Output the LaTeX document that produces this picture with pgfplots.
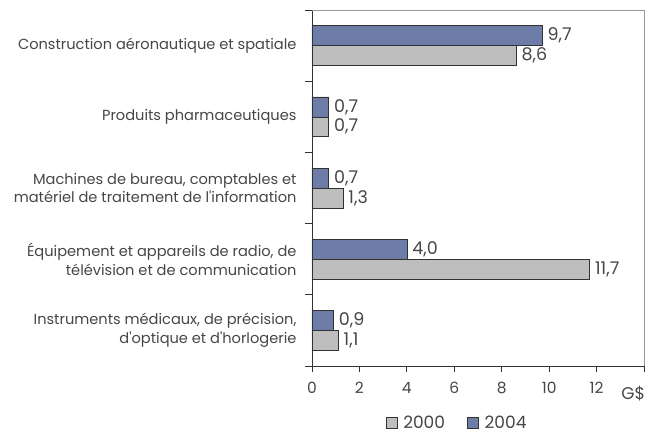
\documentclass[border=0pt]{standalone}
\usepackage{pgfplots}
\pgfplotsset{compat=1.18}
\usepackage{fontspec}
\setmainfont{Poppins}
\definecolor{txt}{RGB}{70,70,70}
\definecolor{bblue}{RGB}{110,124,168}
\definecolor{bgray}{RGB}{190,190,190}
\definecolor{edge}{RGB}{50,50,50}
\definecolor{frame}{RGB}{150,150,150}
\begin{document}
\begin{tikzpicture}
\path[use as bounding box] (-312pt,-68pt) rectangle (347pt,366pt);
\begin{axis}[
  at={(0pt,0pt)}, anchor=south west,
  scale only axis, width=332pt, height=356pt,
  xbar, bar width=0.28,
  xmin=0, xmax=14, ymin=-0.5, ymax=4.5,
  axis lines=left, axis line style={edge, line width=0.8pt, -},
  xtick={0,2,...,14},
  xticklabels={0,2,4,6,8,10,12,},
  ytick={0,1,2,3,4},
  yticklabels={{Instruments médicaux, de précision,\\d\textquotesingle optique et d\textquotesingle horlogerie},
               {Équipement et appareils de radio, de\\télévision et de communication},
               {Machines de bureau, comptables et\\matériel de traitement de l\textquotesingle information},
               {Produits pharmaceutiques},
               {Construction aéronautique et spatiale}},
  minor ytick={-0.5,0.5,...,4.5},
  major y tick style={draw=none},
  minor tick length=7pt,
  major tick length=6pt,
  tick align=outside,
  tick style={edge, line width=0.8pt},
  yticklabel style={align=right, font=\fontsize{14.6}{18.5}\selectfont, text=txt, xshift=-6pt},
  xticklabel style={font=\fontsize{15.5}{17}\selectfont, text=txt, yshift=-7pt},
  /pgf/number format/assume math mode=true,
  point meta=x,
  nodes near coords={\pgfmathprintnumber[fixed,fixed zerofill,precision=1,use comma,assume math mode=true]{\pgfplotspointmeta}},
  nodes near coords style={font=\fontsize{17.5}{19}\selectfont, text=txt, xshift=2pt},
  legend style={at={(rel axis cs:0.437,-0.16)}, anchor=center, draw=none, legend columns=2,
     font=\fontsize{17}{19}\selectfont, text=txt,
     /tikz/every even column/.append style={column sep=20pt}},
  legend image code/.code={\draw[#1] (0pt,-5pt) rectangle (11pt,6pt);},
  clip=false,
]
\addplot[fill=bgray, draw=edge, line width=0.6pt, bar shift=-0.14] coordinates {(1.1,0) (11.7,1) (1.3,2) (0.7,3) (8.6,4)};
\addlegendentry{\hspace{4pt}2000}
\addplot[fill=bblue, draw=edge, line width=0.6pt, bar shift=0.14] coordinates {(0.9,0) (4.0,1) (0.7,2) (0.7,3) (9.7,4)};
\addlegendentry{\hspace{4pt}2004}
\draw[frame, line width=0.8pt] (rel axis cs:0,1) -- (rel axis cs:1,1) -- (rel axis cs:1,0);
\node[anchor=base, font=\fontsize{17}{19}\selectfont, text=txt] at ([yshift=-33pt]axis cs:13.55,-0.5) {G\$};
\end{axis}
\end{tikzpicture}
\end{document}
